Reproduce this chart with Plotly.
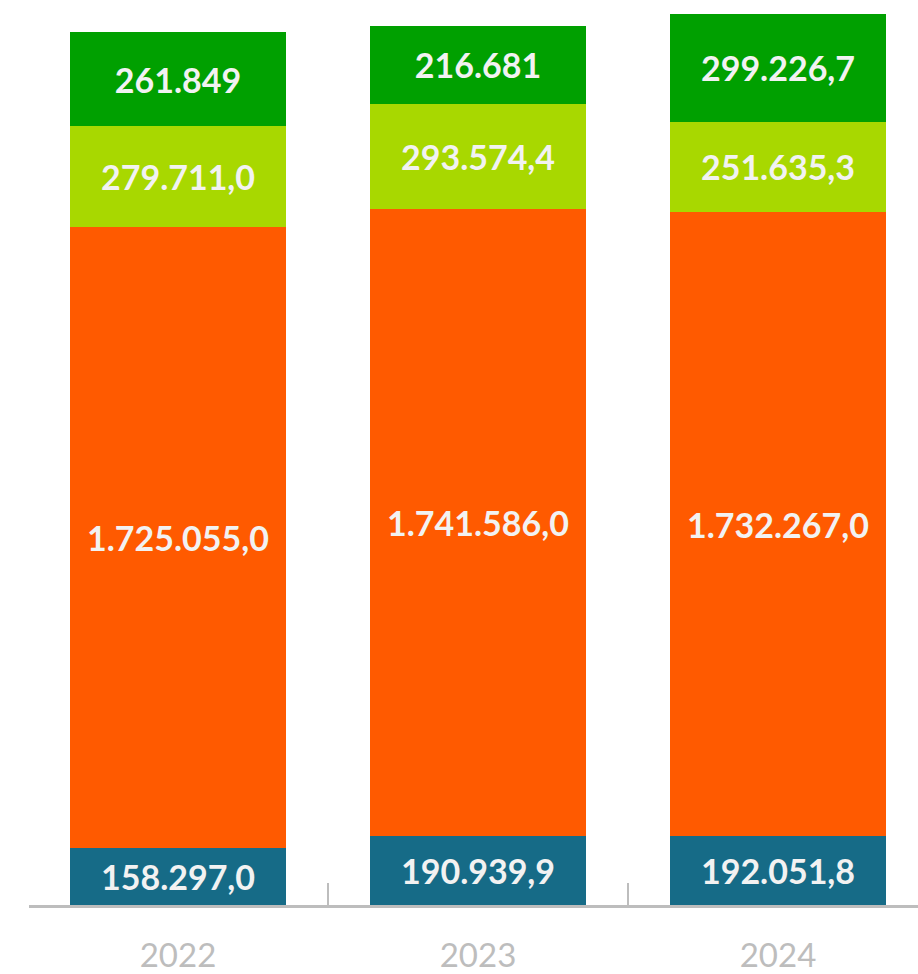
import plotly.graph_objects as go

years = ["2022", "2023", "2024"]

# stacked series, bottom to top
blue_vals = [158297.0, 190939.9, 192051.8]
orange_vals = [1725055.0, 1741586.0, 1732267.0]
lime_vals = [279711.0, 293574.4, 251635.3]
green_vals = [261849.0, 216681.0, 299226.7]

# decimals shown in each series' labels
blue_dec = [1, 1, 1]
orange_dec = [1, 1, 1]
lime_dec = [1, 1, 1]
green_dec = [0, 0, 1]

colors = {
    "blue": "#166B87",
    "orange": "#FF5A00",
    "lime": "#A8D800",
    "green": "#00A000",
}


def fmt(v, d):
    s = f"{v:,.{d}f}"
    return s.replace(",", "X").replace(".", ",").replace("X", ".")


series = [
    ("blue", blue_vals, blue_dec),
    ("orange", orange_vals, orange_dec),
    ("lime", lime_vals, lime_dec),
    ("green", green_vals, green_dec),
]

fig = go.Figure()
for name, vals, decs in series:
    fig.add_trace(
        go.Bar(
            x=years,
            y=vals,
            name=name,
            marker=dict(color=colors[name], line=dict(width=0)),
            text=[fmt(v, d) for v, d in zip(vals, decs)],
            textposition="inside",
            insidetextanchor="middle",
            textangle=0,
            constraintext="none",
            insidetextfont=dict(family="Lato", size=34, color="#f2f2f2", weight="bold"),
            hoverinfo="skip",
        )
    )

fig.update_layout(
    barmode="stack",
    bargap=0.28,
    width=918,
    height=974,
    margin=dict(l=29, r=0, t=0, b=69),
    paper_bgcolor="white",
    plot_bgcolor="white",
    showlegend=False,
    xaxis=dict(
        type="category",
        range=[-0.4967, 2.4667],
        tickson="boundaries",
        ticks="inside",
        ticklen=22,
        tickwidth=2,
        tickcolor="#bdbdbd",
        showline=True,
        linecolor="#bdbdbd",
        linewidth=3,
        showgrid=False,
        tickfont=dict(family="Lato", size=33, color="#bdbdbd"),
        ticklabelstandoff=19,
    ),
    yaxis=dict(
        range=[0, 2514000],
        visible=False,
        showgrid=False,
        zeroline=False,
    ),
)

fig.write_html("out.html")
